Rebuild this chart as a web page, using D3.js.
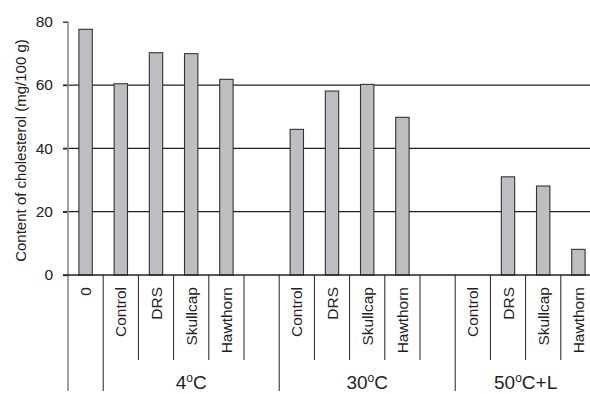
<!DOCTYPE html>
<html>
<head>
<meta charset="utf-8">
<script src="https://cdn.jsdelivr.net/npm/d3@7"></script>
<style>
  html, body { margin: 0; padding: 0; background: #fff; }
  svg { display: block; font-family: "Liberation Sans", Arial, sans-serif; }
</style>
</head>
<body>
<svg id="chart" width="590" height="394"></svg>
<script>
// Treatment labels for each slot along the x axis ("" = empty spacer slot)
const slotLabels = ["0", "Control", "DRS", "Skullcap", "Hawthorn", "",
                    "Control", "DRS", "Skullcap", "Hawthorn", "",
                    "Control", "DRS", "Skullcap", "Hawthorn"];
// Cholesterol content (mg/100 g); null = no bar
const cholesterol = [77.6, 60.4, 70.2, 69.9, 61.8, null,
                     46.0, 58.1, 60.2, 49.8, null,
                     0, 31.0, 28.1, 8.1];
// Storage-condition groups: first slot, slot count, base text, suffix after the degree mark
const groupStart = [1, 6, 11];
const groupSize = [5, 5, 4];
const groupBase = ["4", "30", "50"];
const groupSuffix = ["C", "C", "C+L"];
const yTicks = [0, 20, 40, 60, 80];
const gridValues = [20, 40, 60];

const svg = d3.select("#chart");
const left = 68, slotW = 35.2;
const x = d3.scaleBand()
  .domain(d3.range(slotLabels.length))
  .range([left, left + slotW * slotLabels.length])
  .paddingInner(0.62)
  .paddingOuter(0.31);
const y = d3.scaleLinear().domain([0, 80]).range([275, 21.7]);
const slotEdge = i => left + i * slotW;
const slotMid = i => left + (i + 0.5) * slotW;

// Horizontal gridlines
svg.append("g").selectAll("line").data(gridValues).join("line")
  .attr("x1", left - 5).attr("x2", 596)
  .attr("y1", d => y(d)).attr("y2", d => y(d))
  .attr("stroke", "#222").attr("stroke-width", 1.3);

// Y axis
const yAxis = svg.append("g").attr("transform", `translate(${left},0)`)
  .call(d3.axisLeft(y).tickValues(yTicks).tickSize(5).tickPadding(10));
yAxis.select(".domain").remove();
yAxis.selectAll(".tick line").attr("stroke", "#222").attr("stroke-width", 1.3);
yAxis.selectAll(".tick text").attr("font-size", 15.5).attr("fill", "#222")
  .attr("font-family", "Liberation Sans, Arial, sans-serif");

svg.append("line")
  .attr("x1", left).attr("x2", left).attr("y1", y(80) - 0.5).attr("y2", 391)
  .attr("stroke", "#888").attr("stroke-width", 1.6);

svg.append("text")
  .attr("transform", `translate(26,${(38 + 263) / 2}) rotate(-90)`)
  .attr("text-anchor", "middle").attr("font-size", 15).attr("fill", "#222")
  .text("Content of cholesterol (mg/100 g)");

// Bars
const barData = cholesterol.map((v, i) => ({ i, v })).filter(d => d.v !== null && d.v > 0);
svg.append("g").selectAll("rect").data(barData).join("rect")
  .attr("x", d => x(d.i))
  .attr("width", x.bandwidth())
  .attr("y", d => y(d.v))
  .attr("height", d => y(0) - y(d.v))
  .attr("fill", "#bdbec2").attr("stroke", "#333").attr("stroke-width", 1.1);

// Baseline
svg.append("line")
  .attr("x1", left - 5).attr("x2", 596).attr("y1", y(0)).attr("y2", y(0))
  .attr("stroke", "#222").attr("stroke-width", 1.3);

// Slot separators: short for inner slots, long at group boundaries
const longEdges = new Set([1].concat(groupStart));
svg.append("g").selectAll("line").data(d3.range(1, slotLabels.length)).join("line")
  .attr("x1", i => slotEdge(i)).attr("x2", i => slotEdge(i))
  .attr("y1", y(0)).attr("y2", i => longEdges.has(i) ? 391 : 360)
  .attr("stroke", "#222").attr("stroke-width", 1);

// Rotated treatment labels
svg.append("g").selectAll("text").data(slotLabels.map((t, i) => ({ t, i })).filter(d => d.t))
  .join("text")
  .attr("transform", d => `translate(${slotMid(d.i)},287) rotate(-90)`)
  .attr("text-anchor", "end").attr("dy", "0.36em")
  .attr("font-size", 15.5).attr("fill", "#222")
  .text(d => d.t);

// Group labels with superscript degree mark
const gl = svg.append("g").selectAll("text").data(groupStart).join("text")
  .attr("x", (s, k) => slotEdge(s) + groupSize[k] * slotW / 2)
  .attr("y", 389)
  .attr("text-anchor", "middle").attr("font-size", 19).attr("fill", "#222");
gl.append("tspan").text((s, k) => groupBase[k]);
gl.append("tspan").attr("font-size", 12).attr("dy", -7).text("o");
gl.append("tspan").attr("dy", 7).text((s, k) => groupSuffix[k]);
</script>
</body>
</html>
